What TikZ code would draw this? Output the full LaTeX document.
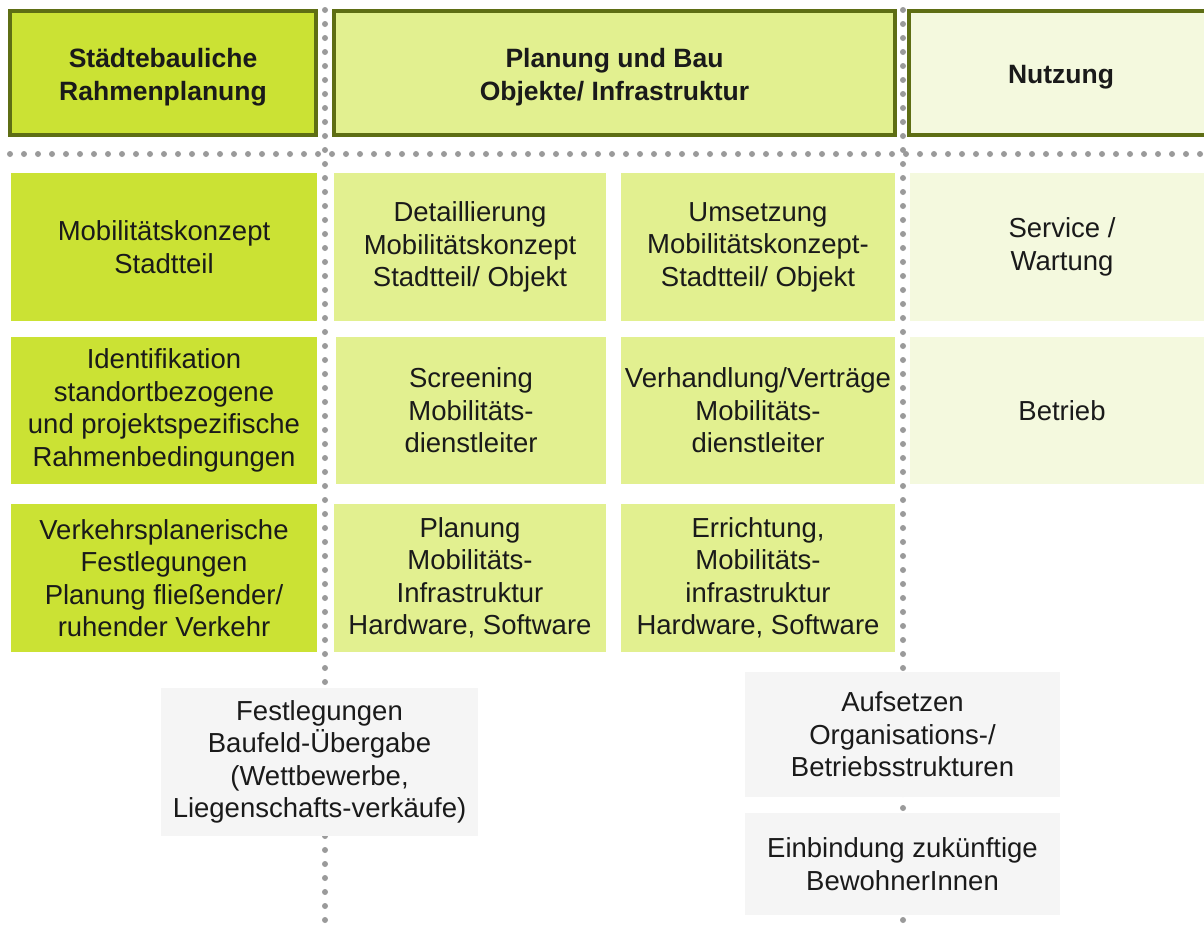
\documentclass[tikz,border=0pt]{standalone}
\usepackage{fontspec}
\setmainfont{Liberation Sans}
\definecolor{gA}{HTML}{CBE234}
\definecolor{gB}{HTML}{E2F090}
\definecolor{gC}{HTML}{F4F9DE}
\definecolor{hb}{HTML}{5E6E14}
\definecolor{gbox}{HTML}{F5F5F5}
\definecolor{dotg}{HTML}{9A9A9A}
\definecolor{txt}{HTML}{1A1A1A}
\begin{document}
\begin{tikzpicture}[x=1pt,y=-1pt,
  cell/.style={rectangle, inner sep=0pt, align=center, text=txt,
    font=\fontsize{27.5}{32.5}\selectfont},
  hdr/.style={rectangle, inner sep=0pt, draw=hb, line width=4pt},
  hdrtext/.style={inner sep=0pt, align=center, text=txt,
    font=\fontsize{26.5}{33.5}\selectfont\bfseries},
  dots/.style={draw=dotg, line width=6pt, line cap=round, dash pattern=on 0pt off 14pt}]
\useasboundingbox (0,0) rectangle (1204,930);
% dotted guide lines (behind)
\coordinate (v1t) at (325,10);
\coordinate (v1b) at (325,935);
\coordinate (v2t) at (903,10);
\coordinate (v2b) at (903,935);
\coordinate (hl) at (10,154);
\coordinate (hr) at (1210,154);
\draw[dots] (v1t) -- (v1b);
\draw[dots] (v2t) -- (v2b);
\draw[dots] (hl) -- (hr);
% headers
\node[hdr, fill=gA, minimum width=306, minimum height=124] (h1) at (163,73) {};
\node[hdr, fill=gB, minimum width=561, minimum height=124] (h2) at (614.5,73) {};
\node[hdr, fill=gC, minimum width=311, minimum height=124] (h3) at (1064.5,73) {};
\node[hdrtext] (h1t) at (163,77) {Städtebauliche\\Rahmenplanung};
\node[hdrtext] (h2t) at (614.5,77) {Planung und Bau\\Objekte/ Infrastruktur};
\node[hdrtext] (h3t) at (1061,77) {Nutzung};
% column 1
\node[cell, fill=gA, minimum width=306, minimum height=148] (a1) at (164,247) {Mobilitätskonzept\\Stadtteil};
\node[cell, fill=gA, minimum width=306, minimum height=147] (a2) at (164,410.5) {Identifikation\\standortbezogene\\und projektspezifische\\Rahmenbedingungen};
\node[cell, fill=gA, minimum width=306, minimum height=148] (a3) at (164,578) {Verkehrsplanerische\\Festlegungen\\Planung fließender/\\ruhender Verkehr};
% column 2
\node[cell, fill=gB, minimum width=272, minimum height=148] (b1) at (470,247) {Detaillierung\\Mobilitätskonzept\\Stadtteil/ Objekt};
\node[cell, fill=gB, minimum width=270, minimum height=147] (b2) at (471,410.5) {Screening\\Mobilitäts-\\dienstleiter};
\node[cell, fill=gB, minimum width=272, minimum height=148] (b3) at (470,578) {Planung\\Mobilitäts-\\Infrastruktur\\Hardware, Software};
% column 3
\node[cell, fill=gB, minimum width=274, minimum height=148] (c1) at (758,247) {Umsetzung\\Mobilitätskonzept-\\Stadtteil/ Objekt};
\node[cell, fill=gB, minimum width=274, minimum height=147] (c2) at (758,410.5) {Verhandlung/Verträge\\Mobilitäts-\\dienstleiter};
\node[cell, fill=gB, minimum width=274, minimum height=148] (c3) at (758,578) {Errichtung,\\Mobilitäts-\\infrastruktur\\Hardware, Software};
% column 4
\node[cell, fill=gC, minimum width=304, minimum height=148] (d1) at (1062,247) {Service /\\Wartung};
\node[cell, fill=gC, minimum width=304, minimum height=147] (d2) at (1062,410.5) {Betrieb};
% bottom boxes
\node[cell, fill=gbox, minimum width=317, minimum height=148] (e1) at (319.5,762) {Festlegungen\\Baufeld-Übergabe\\(Wettbewerbe,\\Liegenschafts-verkäufe)};
\node[cell, fill=gbox, minimum width=315, minimum height=125] (f1) at (902.5,734.5) {Aufsetzen\\Organisations-/\\Betriebsstrukturen};
\node[cell, fill=gbox, minimum width=315, minimum height=102] (f2) at (902.5,864) {Einbindung zukünftige\\BewohnerInnen};
\end{tikzpicture}
\end{document}
